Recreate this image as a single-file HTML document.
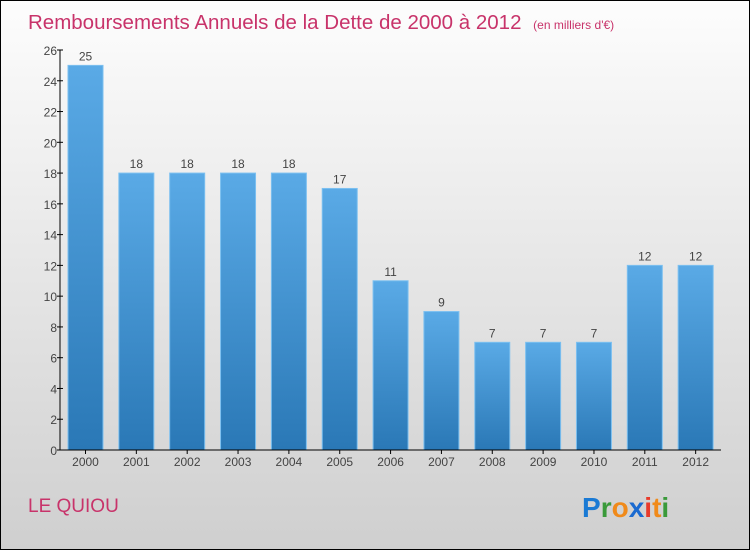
<!DOCTYPE html>
<html><head><meta charset="utf-8"><style>
body{margin:0;width:750px;height:550px;overflow:hidden}
svg{display:block;font-family:"Liberation Sans",sans-serif}
</style></head><body>
<svg id="c" width="750" height="550">
<defs>
<linearGradient id="bg" x1="0" y1="0" x2="0" y2="1"><stop offset="0" stop-color="#fdfdfd"/><stop offset="1" stop-color="#cfcfcf"/></linearGradient>
<linearGradient id="bar" x1="0" y1="0" x2="0" y2="1"><stop offset="0" stop-color="#5aaae6"/><stop offset="1" stop-color="#2a78b6"/></linearGradient>
</defs>
<rect x="0.5" y="0.5" width="749" height="549" fill="url(#bg)" stroke="#000"/>
<text x="28" y="29" font-size="20.5" fill="#c8336a">Remboursements Annuels de la Dette de 2000 à 2012 <tspan font-size="12" dx="6">(en milliers d'€)</tspan></text>
<text x="28" y="512" font-size="19" fill="#c8336a">LE QUIOU</text>
<g font-size="28" font-weight="bold" font-family="'Liberation Sans',sans-serif">
<text x="582" y="517"><tspan fill="#1a7ad4">P</tspan><tspan fill="#3a9a3a">r</tspan><tspan fill="#f08a1a">o</tspan><tspan fill="#1a6ad0">x</tspan><tspan fill="#e83a2a">i</tspan><tspan fill="#f08a1a">t</tspan><tspan fill="#3a9a3a">i</tspan></text>
</g>
<g id="plot"></g>
</svg>
<script>
const categories=["2000","2001","2002","2003","2004","2005","2006","2007","2008","2009","2010","2011","2012"];
const values=[25,18,18,18,18,17,11,9,7,7,7,12,12];
const yTicks=[0,2,4,6,8,10,12,14,16,18,20,22,24,26];
const X0=60,X1=721,Y0=450,Y1=50,YMAX=26;
const band=(X1-X0)/categories.length;
const y=v=>Y0-(Y0-Y1)*v/YMAX;
const x=i=>X0+i*band;
const g=document.getElementById('plot');
const NS="http://www.w3.org/2000/svg";
function mk(t,a){const e=document.createElementNS(NS,t);for(const k in a)e.setAttribute(k,a[k]);g.appendChild(e);return e;}
values.forEach((v,i)=>{
 const r=mk('rect',{x:x(i)+8,y:y(v),width:35,height:Y0-y(v),fill:'url(#bar)',stroke:'#7cc0f0','stroke-width':1});
 
 
 const t=mk('text',{x:x(i)+25.5,y:y(v)-5,'text-anchor':'middle','font-size':12,fill:'#444'});
 t.textContent=v;
 
 
 const c=mk('text',{x:x(i)+25.5,y:466,'text-anchor':'middle','font-size':12,fill:'#444'});
 c.textContent=categories[i];
 
 
 const tk=mk('line',{x1:x(i)+25.5,x2:x(i)+25.5,y1:Y0,y2:Y0+4,stroke:'#000'});
 
 
});
yTicks.forEach(v=>{
 const l=mk('line',{x1:X0-3,x2:X0+3,y1:y(v),y2:y(v),stroke:'#000'});
 
 
 const t=mk('text',{x:X0-3,y:y(v)+5,'text-anchor':'end','font-size':12,fill:'#444'});
 t.textContent=v;
 
 
});
const ya=mk('line',{x1:X0,x2:X0,y1:Y1,y2:Y0,stroke:'#000'});


const xa=mk('line',{x1:X0,x2:X1,y1:Y0,y2:Y0,stroke:'#000'});


</script>
</body></html>
